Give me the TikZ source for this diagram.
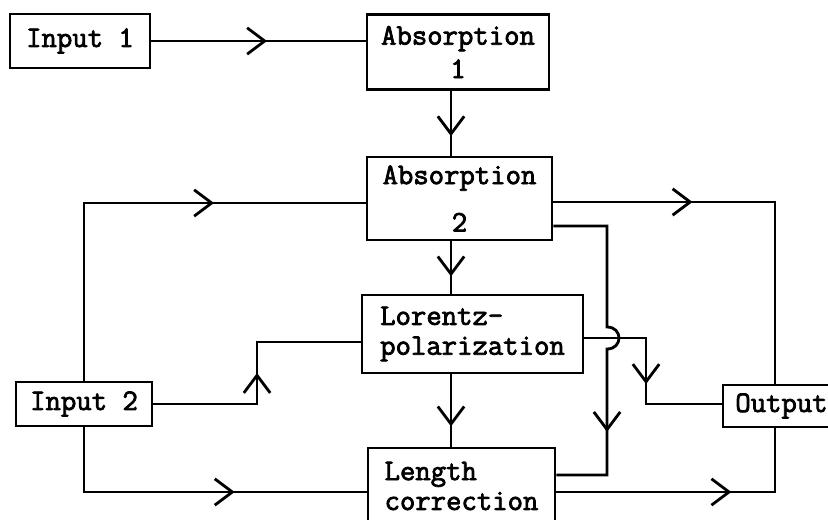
\documentclass[tikz,border=0pt]{standalone}
\usepackage{fontspec}
\usetikzlibrary{calc}
\usetikzlibrary{arrows.meta}
\usetikzlibrary{decorations.markings}
\newfontfamily\tw{Latin Modern Mono}[AutoFakeBold=2.5]
\tikzset{
	blok/.style={draw, rectangle, line width=1.6pt, inner sep=0pt, font=\tw\bfseries\fontsize{17}{19}\selectfont},
	lijn/.style={line width=1.6pt},
	pijl/.style={lijn, decoration={markings, mark=at position #1 with {\arrow{Straight Barb[length=10pt,width=15pt,line width=1.6pt]}}}, postaction={decorate}},
}
\begin{document}
\begin{tikzpicture}[x=.02cm,y=-.02cm]
\useasboundingbox (0,0) rectangle (828,520);
\node[blok,minimum width=2.8cm,minimum height=1.08cm] (in1) at (80,41) {Input 1};
\node[blok,minimum width=3.64cm,minimum height=1.5cm,align=center] (abs1) at (458,52) {Absorption\\1};
\node[blok,minimum width=3.7cm,minimum height=1.66cm,align=center] (abs2) at (459.5,198.5) {Absorption\\[8pt]2};
\node[blok,minimum width=4.42cm,minimum height=1.56cm,align=left] (lor) at (472.5,334) {Lorentz-\\[-2pt]polarization};
\node[blok,minimum width=3.74cm,minimum height=1.52cm,align=left] (len) at (461.5,486) {Length\\[-2pt]correction};
\node[blok,minimum width=2.72cm,minimum height=.88cm] (in2) at (84,404) {Input 2};
\node[blok,minimum width=2.34cm,minimum height=.84cm] (out) at (781.5,406) {Output};
\coordinate (v) at (451,0);
\coordinate (k1) at (84,203);
\coordinate (k3) at (257,342);
\coordinate (k4) at (84,492);
\coordinate (k5) at (775,202);
\coordinate (k6) at (607,226);
\coordinate (hop) at (607,338);
\coordinate (k7) at (607,475);
\coordinate (k8) at (646,338);
\coordinate (k9) at (646,404);
\draw[pijl=.54] (in1.east) -- (in1.east -| abs1.west);
\draw[pijl=.7] (v |- abs1.south) -- (v |- abs2.north);
\draw[pijl=.67] (v |- abs2.south) -- (v |- lor.north);
\draw[pijl=.72] (v |- lor.south) -- (v |- len.north);
\draw[pijl=.67] (in2.north) -- (k1) -- (k1 -| abs2.west);
\draw[pijl=.5] (in2.east) -| (k3) -- (k3 -| lor.west);
\draw[pijl=.62] (in2.south) -- (k4) -- (k4 -| len.west);
\draw[pijl=.345] (abs2.east |- k5) -- (k5) -- (k5 |- out.north);
\draw[pijl=.745] (abs2.east |- k6) -- (k6) -- ($(hop)+(0,-11)$) .. controls ($(hop)+(16,-11)$) and ($(hop)+(16,11)$) .. ($(hop)+(0,11)$) -- (k7) -- (k7 -| len.east);
\draw[pijl=.53] (lor.east |- hop) -- (k8) -- (k9) -- (k9 -| out.west);
\draw[pijl=.62] (len.east |- 0,492) -- (775,492) -- (k5 |- out.south);
\end{tikzpicture}
\end{document}
